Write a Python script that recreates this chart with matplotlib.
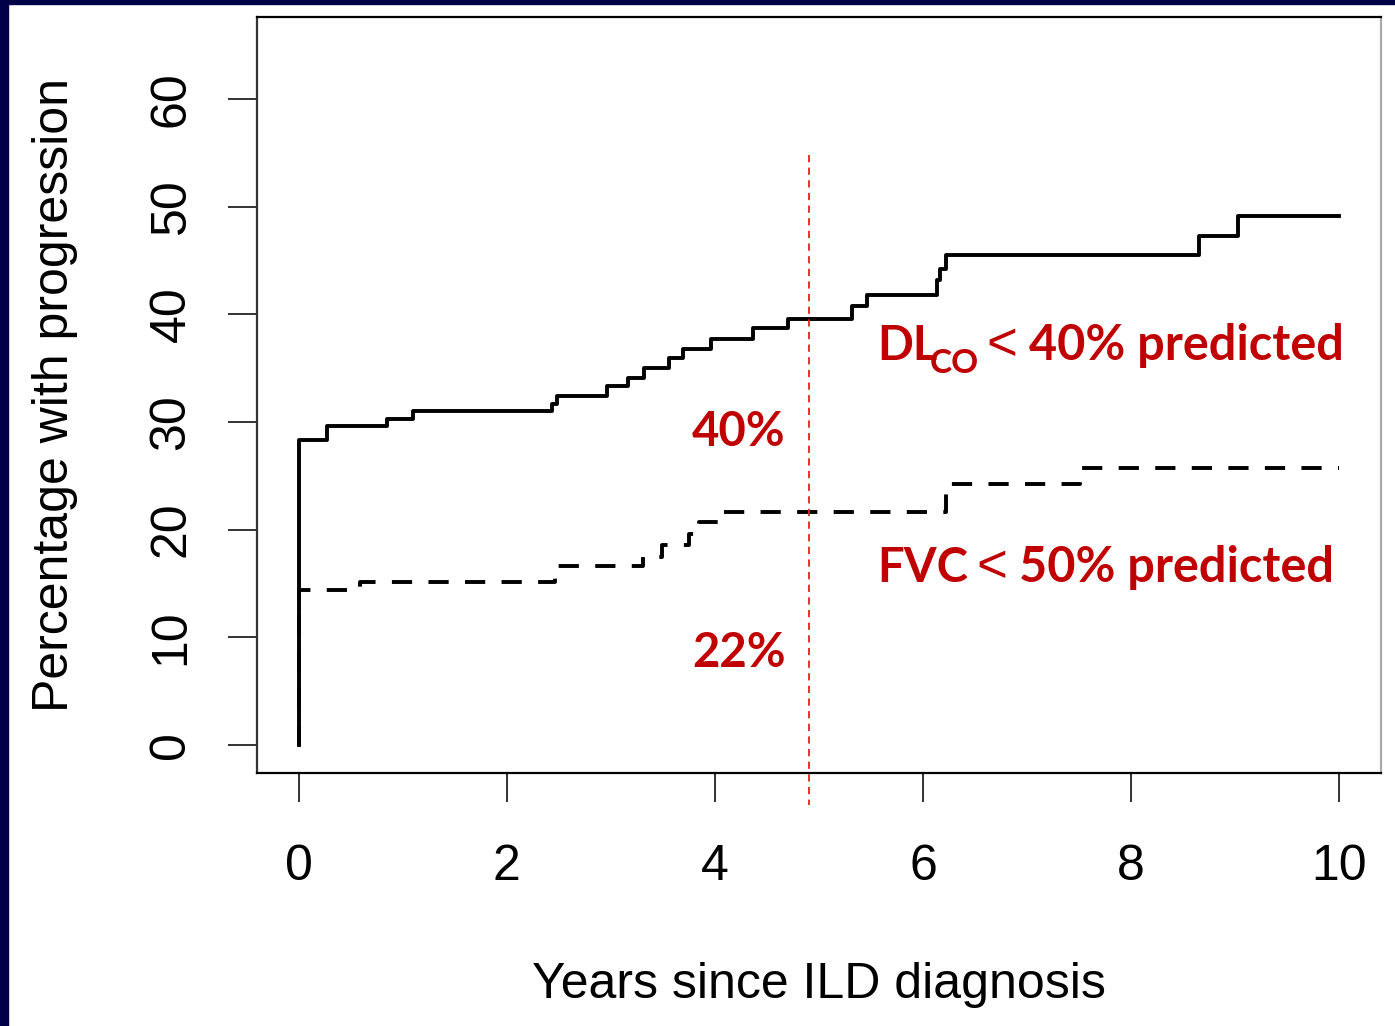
import matplotlib
matplotlib.use('Agg')

import matplotlib.pyplot as plt
from matplotlib.patches import Rectangle


# === data ===
dlco_t = [0, 0, 0.27, 0.85, 1.10, 2.43, 2.48, 2.96, 3.16, 3.32, 3.56, 3.69, 3.96,
          4.37, 4.70, 5.32, 5.46, 6.13, 6.16, 6.22, 8.65, 9.03, 10.0]
dlco_y = [0, 28.3, 29.6, 30.3, 31.0, 31.7, 32.4, 33.3, 34.1, 35.0, 35.9, 36.8, 37.7,
          38.7, 39.6, 40.8, 41.8, 43.2, 44.2, 45.5, 47.3, 49.1, 49.1]

fvc_t = [0, 0, 0.59, 2.46, 3.31, 3.49, 3.75, 3.85, 4.07, 6.22, 7.51, 10.0]
fvc_y = [0, 14.4, 15.1, 16.6, 17.5, 18.6, 19.6, 20.7, 21.6, 24.2, 25.7, 25.7]

cutoff_year = 4.9
x_ticks = [0, 2, 4, 6, 8, 10]
y_ticks = [0, 10, 20, 30, 40, 50, 60]

RED = '#c00000'
NAVY = '#000048'

fig = plt.figure(figsize=(13.95, 10.26), dpi=100)
fig.patch.set_facecolor('white')

# navy slide border (top and left)
fig.patches.append(Rectangle((0, 0), 8 / 1395, 1, transform=fig.transFigure,
                             color=NAVY, zorder=0))
fig.patches.append(Rectangle((0, 1 - 4 / 1026), 1, 4 / 1026, transform=fig.transFigure,
                             color=NAVY, zorder=0))

ax = fig.add_axes([257 / 1395, 1 - 773 / 1026, 1124 / 1395, 756 / 1026])

ax.step(dlco_t, dlco_y, where='post', color='black', lw=2.8)
ax.step(fvc_t, fvc_y, where='post', color='black', lw=2.8,
        linestyle=(0, (5.2, 4.2)))

# 5-year marker
ax.plot([cutoff_year, cutoff_year], [54.8, -5.6], color='#e8201c', lw=1.3,
        linestyle=(0, (4, 3)), clip_on=False)

ax.set_xlim(-0.4, 10.4)
ax.set_ylim(-2.6, 67.6)
ax.set_xticks(x_ticks)
ax.set_yticks(y_ticks)

font = 'Liberation Sans'
ax.set_xticklabels([str(v) for v in x_ticks], family=font, fontsize=36)
ax.set_yticklabels([str(v) for v in y_ticks], family=font, fontsize=36,
                   rotation=90, va='center')
ax.tick_params(axis='both', length=21, width=1.4, color='#333333')
ax.tick_params(axis='x', pad=30)
ax.tick_params(axis='y', pad=24)

for side in ['left', 'bottom', 'top']:
    ax.spines[side].set_linewidth(1.6)
ax.spines['right'].set_color('#aaaaaa')
ax.spines['right'].set_linewidth(1.6)
ax.spines['left'].set_color('#333333')

ax.set_xlabel('Years since ILD diagnosis', family=font, fontsize=36, labelpad=52)
ax.set_ylabel('Percentage with progression', family=font, fontsize=36, labelpad=51)

# annotations
def red(x, y, s, size=34, weight='bold', family='Lato', **kw):
    fig.text(x / 1395, 1 - y / 1026, s, va='baseline', family=family,
             fontweight=weight, color=RED, fontsize=size, **kw)

red(877, 360, 'DL')
red(930, 373, 'CO', size=24)
red(1002, 360, '<', size=38, weight='normal', family=font, ha='center')
red(1029, 360, '40% predicted', size=35)

red(877, 582, 'FVC')
red(992, 582, '<', size=38, weight='normal', family=font, ha='center')
red(1019, 582, '50% predicted', size=35)

red(739, 446, '40%', ha='center')
red(739, 667, '22%', ha='center')

fig.savefig('out.png', dpi=100, facecolor=fig.get_facecolor())
